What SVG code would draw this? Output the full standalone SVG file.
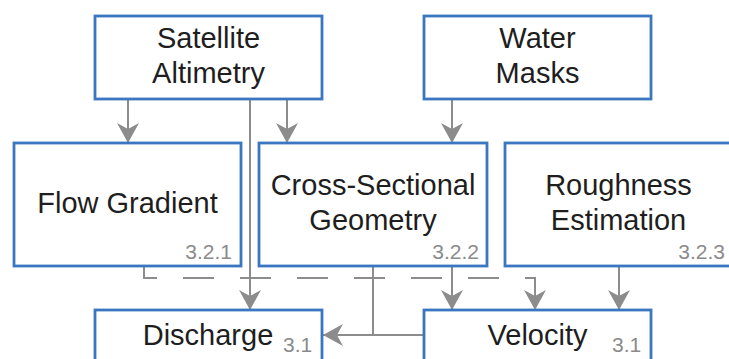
<svg xmlns="http://www.w3.org/2000/svg" width="729" height="359" viewBox="0 0 729 359">
<style>
.box{fill:#fff;stroke:#3a77c0;stroke-width:2.8}
.t{font-family:"Liberation Sans",Arial,sans-serif;font-size:29px;fill:#1e1e1e;text-anchor:middle}
.n{font-family:"Liberation Sans",Arial,sans-serif;font-size:21px;fill:#8a8a8a}
.c{fill:none;stroke:#8c8c8c;stroke-width:2}
.d{stroke-dasharray:31 26;stroke-dashoffset:6}
</style>
<defs>
<marker id="ah" markerUnits="userSpaceOnUse" markerWidth="22" markerHeight="22" refX="20" refY="11" orient="auto">
<path d="M0,0 L20,11 L0,22 L6,11 Z" fill="#8c8c8c"/>
</marker>
</defs>
<rect width="729" height="359" fill="#fff"/>
<g id="connectors">
<line class="c" x1="128" y1="99" x2="128" y2="143" marker-end="url(#ah)"/>
<line class="c" x1="287" y1="99" x2="287" y2="143" marker-end="url(#ah)"/>
<line class="c" x1="452" y1="99" x2="452" y2="143" marker-end="url(#ah)"/>
<line class="c" x1="250" y1="99" x2="250" y2="310" marker-end="url(#ah)"/>
<path class="c d" d="M144,266 V278 H535 V310" marker-end="url(#ah)"/>
<line class="c" x1="452" y1="266" x2="452" y2="310" marker-end="url(#ah)"/>
<line class="c" x1="619" y1="266" x2="619" y2="310" marker-end="url(#ah)"/>
<line class="c" x1="373" y1="266" x2="373" y2="335"/>
<line class="c" x1="424" y1="335" x2="323" y2="335" marker-end="url(#ah)"/>
</g>
<g id="satellite-altimetry">
<rect class="box" x="95" y="16" width="227" height="83"/>
<text class="t" x="208.5" y="48">Satellite</text>
<text class="t" x="208.5" y="83">Altimetry</text>
</g>
<g id="water-masks">
<rect class="box" x="424" y="16" width="227" height="83"/>
<text class="t" x="537.5" y="48">Water</text>
<text class="t" x="537.5" y="83">Masks</text>
</g>
<g id="flow-gradient">
<rect class="box" x="14" y="143" width="227" height="123"/>
<text class="t" x="127.5" y="213">Flow Gradient</text>
<text class="n" x="232" y="259" text-anchor="end">3.2.1</text>
</g>
<g id="cross-sectional-geometry">
<rect class="box" x="259" y="143" width="228" height="123"/>
<text class="t" x="373" y="195">Cross-Sectional</text>
<text class="t" x="373" y="230">Geometry</text>
<text class="n" x="479" y="259" text-anchor="end">3.2.2</text>
</g>
<g id="roughness-estimation">
<rect class="box" x="505" y="143" width="227" height="123"/>
<text class="t" x="618.5" y="195">Roughness</text>
<text class="t" x="618.5" y="230">Estimation</text>
<text class="n" x="725" y="259" text-anchor="end">3.2.3</text>
</g>
<g id="discharge">
<rect class="box" x="95" y="310" width="227" height="60"/>
<text class="t" x="208" y="345">Discharge</text>
<text class="n" x="283" y="352">3.1</text>
</g>
<g id="velocity">
<rect class="box" x="424" y="310" width="227" height="60"/>
<text class="t" x="537.5" y="345">Velocity</text>
<text class="n" x="612" y="352">3.1</text>
</g>
</svg>
